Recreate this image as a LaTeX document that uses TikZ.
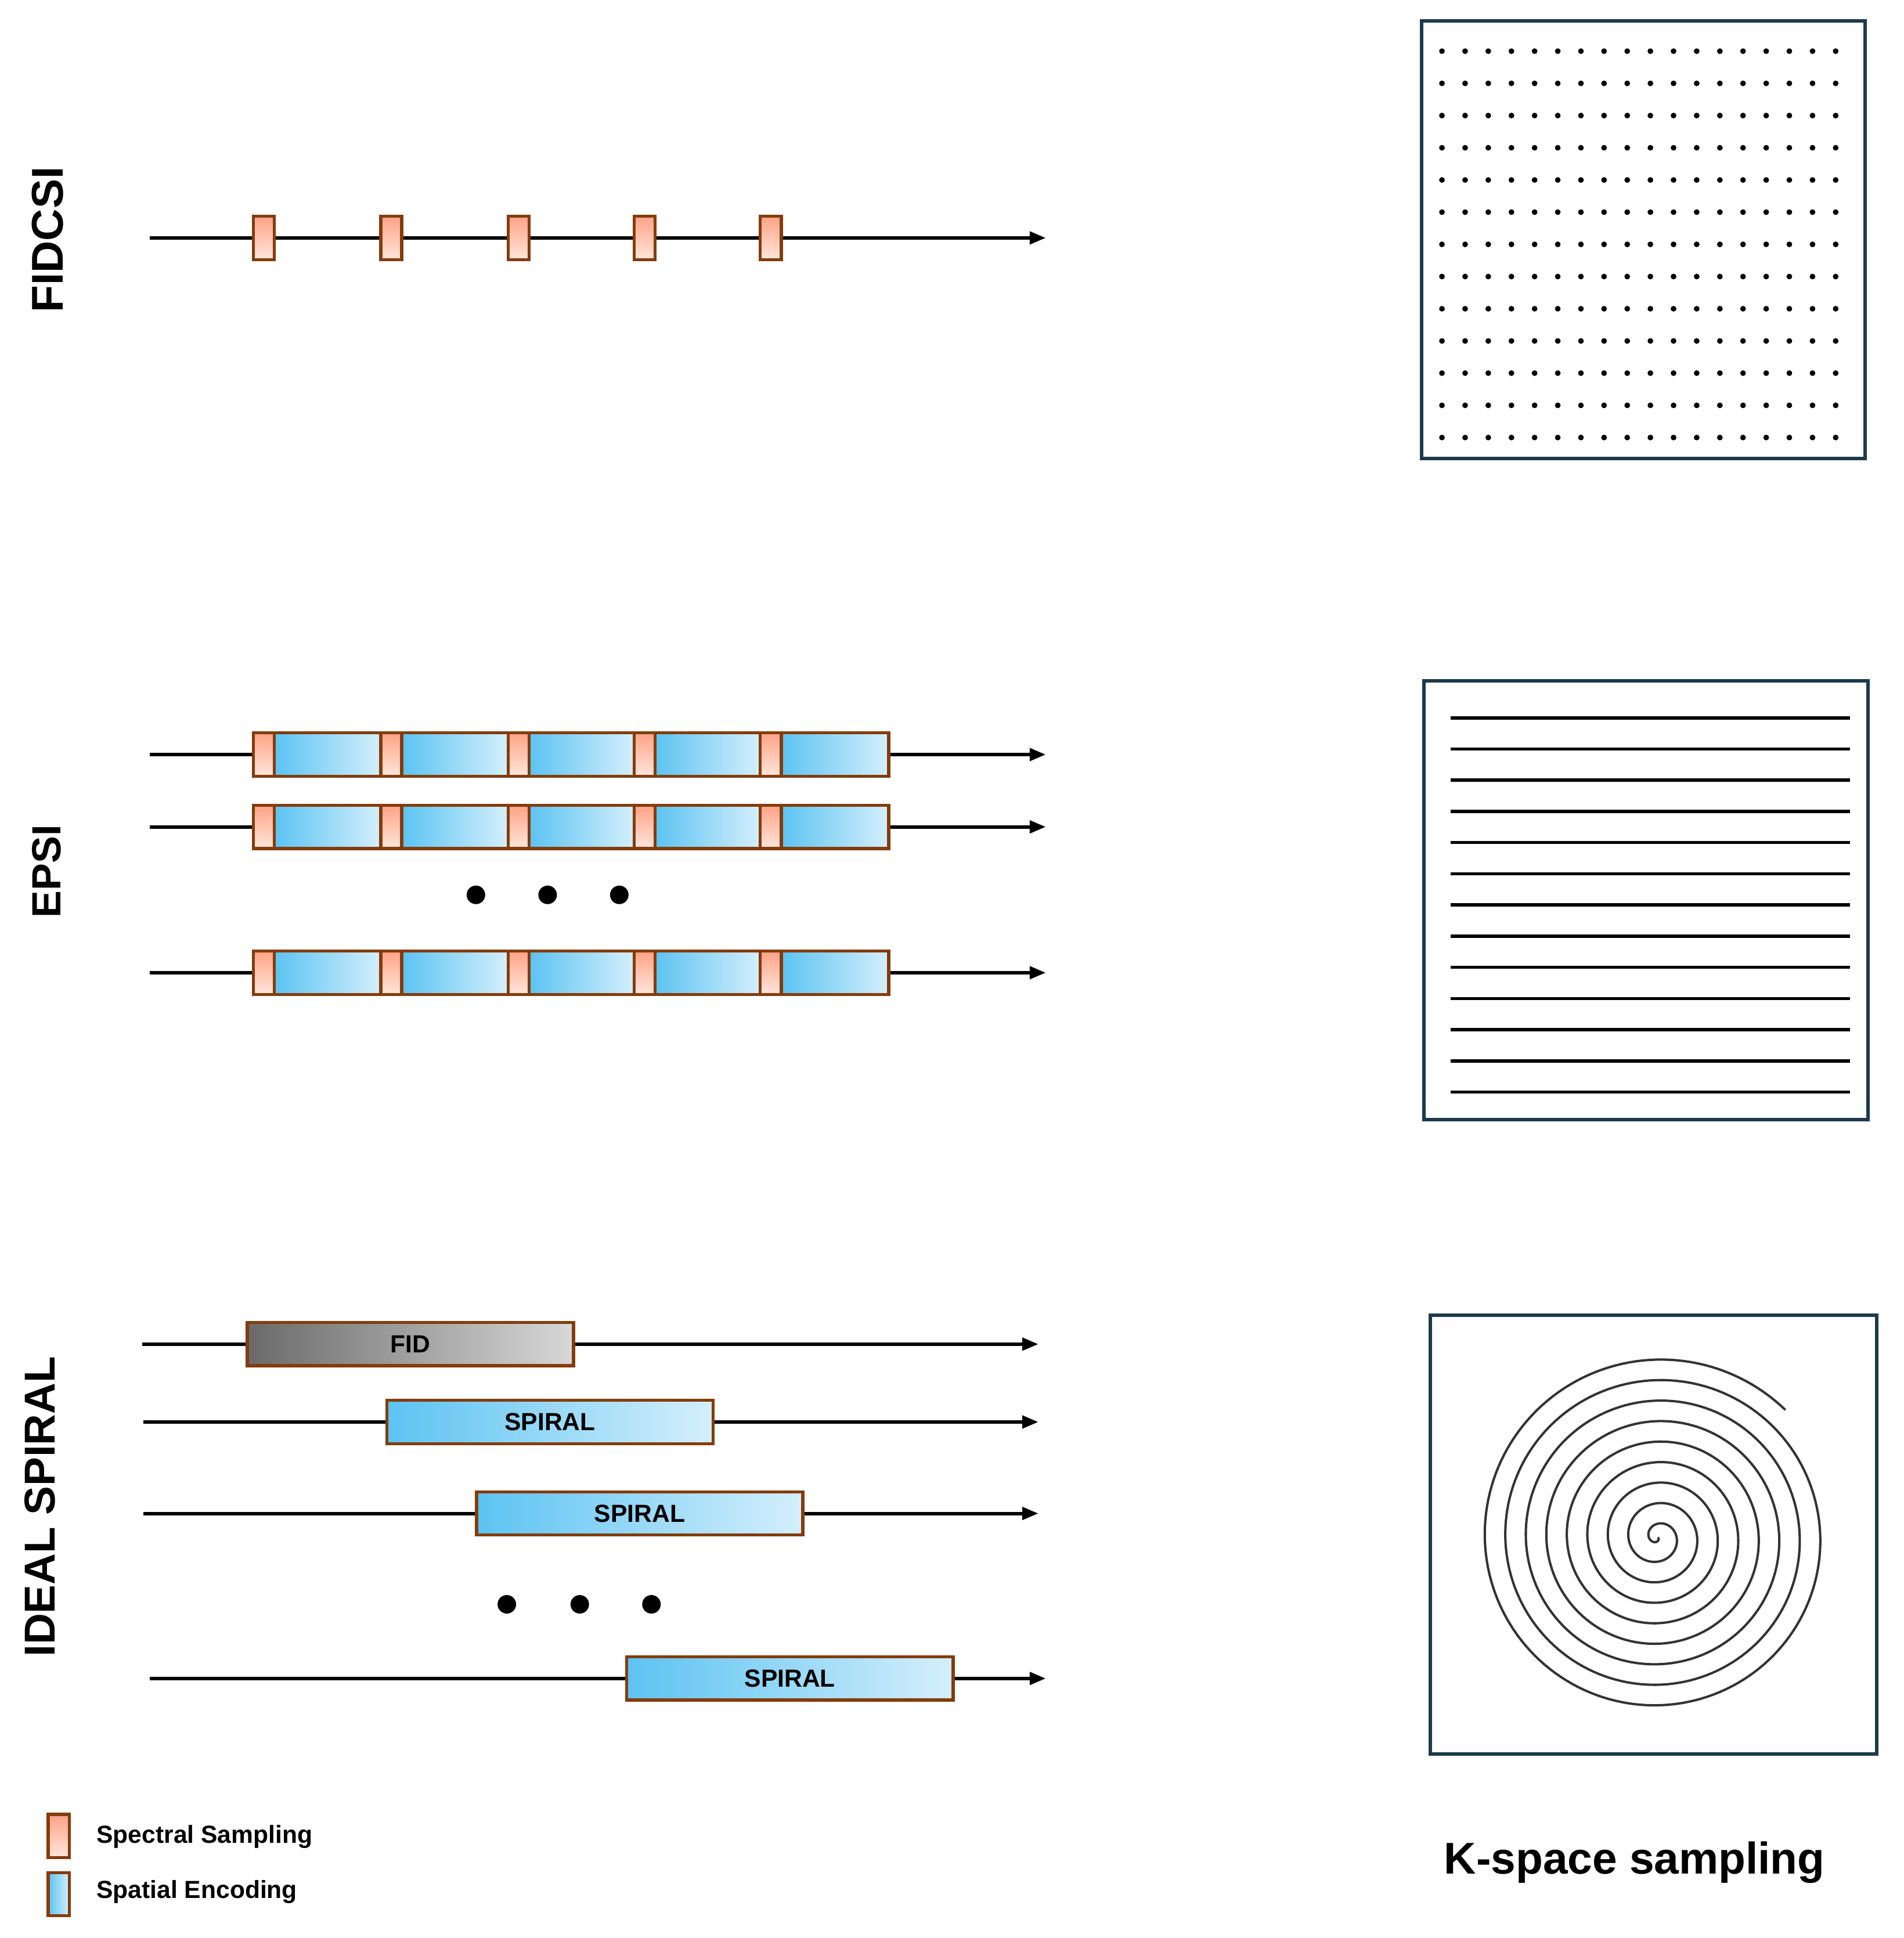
\documentclass[tikz,border=0pt]{standalone}
\usepackage{fontspec}
\setmainfont{Liberation Sans}
\usetikzlibrary{arrows.meta}
\definecolor{brn}{HTML}{843C0C}
\definecolor{specTop}{HTML}{FFA285}
\definecolor{specBot}{HTML}{FFE6DC}
\definecolor{blueL}{HTML}{5CC3F2}
\definecolor{blueR}{HTML}{D4EFFC}
\definecolor{grayL}{HTML}{6A6A6A}
\definecolor{grayR}{HTML}{D8D8D8}
\definecolor{kborder}{HTML}{1B3B4C}
\definecolor{spir}{HTML}{333333}
\begin{document}
\begin{tikzpicture}[x=1pt,y=-1pt,
  axis/.style={line width=2.8pt, -{Triangle[length=13pt,width=10pt]}},
  specbox/.style={draw=brn, line width=2.5pt, top color=specTop, bottom color=specBot,
    minimum width=17pt, minimum height=35pt, inner sep=0pt},
  bluebox/.style={draw=brn, line width=2.5pt, left color=blueL, right color=blueR,
    minimum height=35pt, inner sep=0pt, font=\fontsize{20}{22}\selectfont\bfseries},
  graybox/.style={draw=brn, line width=2.5pt, left color=grayL, right color=grayR,
    minimum height=35pt, minimum width=264pt, inner sep=0pt, font=\fontsize{20}{22}\selectfont\bfseries},
  seqlabel/.style={rotate=90, inner sep=0pt},
  dotnode/.style={circle, fill=black, minimum size=15pt, inner sep=0pt},
  kbox/.style={draw=kborder, line width=2.8pt, inner sep=0pt},
  kline/.style={line width=2.6pt, black},
  legtext/.style={anchor=base west, inner sep=0pt, font=\fontsize{20}{22}\selectfont\bfseries}
]
\useasboundingbox (0,0) rectangle (1540,1568);

% ---------------- FIDCSI ----------------
\node[seqlabel, font=\fontsize{36}{40}\selectfont\bfseries] (labF) at (38.5,194) {FIDCSI};
\coordinate (fa0) at (121,192.5);
\coordinate (fa1) at (846,192.5);
\draw[axis] (fa0) -- (fa1);
\foreach \x [count=\i] in {213.5,316.5,419.5,521.5,623.5}
  \node[specbox] (fs\i) at (\x,192.5) {};

% ---------------- EPSI ----------------
\node[seqlabel, font=\fontsize{33}{38}\selectfont\bfseries] (labE) at (37.5,705) {EPSI};
\foreach \y [count=\r] in {610.5,669,787} {
  \coordinate (ea\r a) at (121,\y);
  \coordinate (ea\r b) at (846,\y);
  \draw[axis] (ea\r a) -- (ea\r b);
  \foreach \x/\w [count=\i] in {265/86,368/86,470.5/85,572.5/85,675.5/87}
    \node[bluebox, minimum width=\w pt] (eb\r-\i) at (\x,\y) {};
  \foreach \x [count=\i] in {213.5,316.5,419.5,521.5,623.5}
    \node[specbox] (es\r-\i) at (\x,\y) {};
}
\foreach \x [count=\i] in {385,443,501}
  \node[dotnode] (ed\i) at (\x,724) {};

% ---------------- IDEAL SPIRAL ----------------
\node[seqlabel, font=\fontsize{35}{40}\selectfont\bfseries] (labI) at (32.5,1219) {IDEAL SPIRAL};
\coordinate (ia1a) at (115,1087.5);  \coordinate (ia1b) at (840,1087.5);
\coordinate (ia2a) at (116,1150.5);  \coordinate (ia2b) at (840,1150.5);
\coordinate (ia3a) at (116,1224.5);  \coordinate (ia3b) at (840,1224.5);
\coordinate (ia4a) at (121,1358);    \coordinate (ia4b) at (846,1358);
\draw[axis] (ia1a) -- (ia1b);
\draw[axis] (ia2a) -- (ia2b);
\draw[axis] (ia3a) -- (ia3b);
\draw[axis] (ia4a) -- (ia4b);
\node[graybox] (fid) at (332,1087.5) {FID};
\node[bluebox, minimum width=264pt] (sp1) at (445,1150.5) {SPIRAL};
\node[bluebox, minimum width=264pt] (sp2) at (517.5,1224.5) {SPIRAL};
\node[bluebox, minimum width=264pt] (sp3) at (639,1358) {SPIRAL};
\foreach \x [count=\i] in {410,469,527}
  \node[dotnode] (id\i) at (\x,1298) {};

% ---------------- Legend ----------------
\node[specbox] (legS) at (47.5,1485.5) {};
\node[bluebox, minimum width=17pt] (legB) at (47.5,1532.5) {};
\node[legtext] (legSt) at (78,1491) {Spectral Sampling};
\node[legtext] (legBt) at (78,1536) {Spatial Encoding};

% ---------------- K-space ----------------
\node[kbox, minimum width=359pt, minimum height=354pt] (k1) at (1329.5,194) {};
\foreach \i in {0,...,17}
  \foreach \j in {0,...,12}
    \fill ({1166.5+\i*18.735},{41.4+\j*26.05}) circle (2.3);

\node[kbox, minimum width=359pt, minimum height=355pt] (k2) at (1331.5,728.5) {};
\foreach \j in {0,...,12}
  \draw[kline] (1173.5,{580.8+\j*25.23}) -- (1496.6,{580.8+\j*25.23});

\node[kbox, minimum width=361pt, minimum height=355pt] (k3) at (1337.5,1241.5) {};
\draw[spir, line width=1.9pt] plot[domain=45:3213, samples=1400, variable=\a]
  ({1341+(3213-\a)*0.046111*cos(\a)}, {1244-(3213-\a)*0.046111*sin(\a)});

\node[anchor=base west, inner sep=0pt, font=\fontsize{36}{40}\selectfont\bfseries] (ktitle) at (1168,1516) {K-space sampling};
\end{tikzpicture}
\end{document}
